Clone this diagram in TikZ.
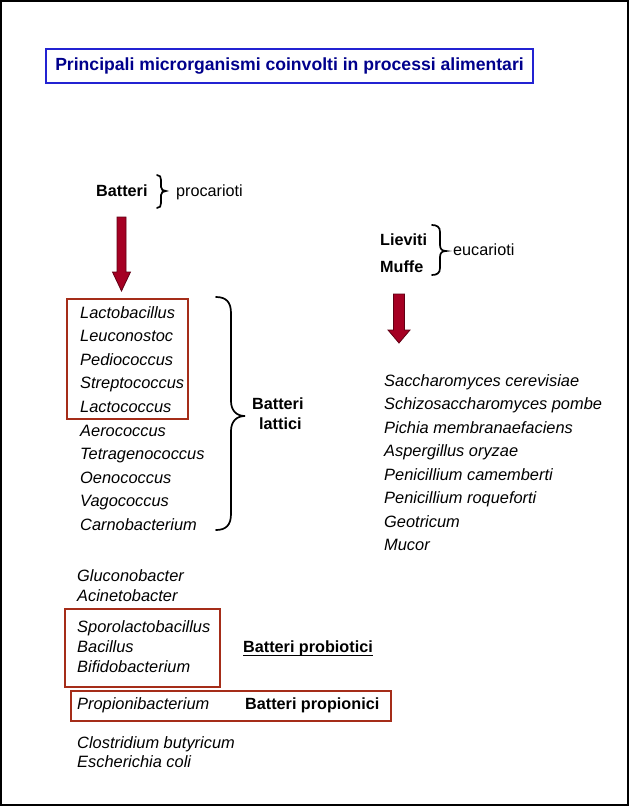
\documentclass[tikz,border=0pt]{standalone}
\usepackage{fontspec}
\setmainfont{Liberation Sans}
\definecolor{titleblue}{RGB}{0,0,140}
\definecolor{boxblue}{RGB}{35,35,210}
\definecolor{boxred}{RGB}{165,45,25}
\definecolor{arrowred}{RGB}{165,0,35}
\definecolor{arrowedge}{RGB}{95,0,20}
\begin{document}
\begin{tikzpicture}[x=1pt,y=-1pt,
  txt/.style={anchor=base west,inner sep=0pt,font=\fontsize{16.2}{19}\selectfont},
  it/.style={txt,font=\fontsize{16.4}{19}\selectfont\itshape},
  bf/.style={txt,font=\fontsize{16.2}{19}\selectfont\bfseries},
  redbox/.style={draw=boxred,line width=2pt},
  bracepath/.style={draw=black,line width=1.7pt,line cap=round},
  blockarrow/.style={fill=arrowred,draw=arrowedge,line width=0.8pt}]
\useasboundingbox (0,0) rectangle (630,807);
\draw[line width=2pt] (1,1) rectangle (628,805);
% title
\node[draw=boxblue,line width=2pt,minimum width=487pt,minimum height=34pt,inner sep=0pt,
  text=titleblue,font=\fontsize{17.6}{20}\selectfont\bfseries] (title) at (289.5,66)
  {Principali microrganismi coinvolti in processi alimentari};
% Batteri procarioti
\node[bf] (batteri) at (96,196) {Batteri};
\node[txt] (procarioti) at (176,196) {procarioti};
\draw[bracepath] (157,175) .. controls (160,175) and (161,177) .. (161,180) -- (161,187)
  .. controls (161,189.5) and (163,191) .. (166,191)
  .. controls (163,191) and (161,192.5) .. (161,195) -- (161,203)
  .. controls (161,206) and (160,208) .. (157,208);
% arrow 1
\draw[blockarrow] (117,217) -- (126,217) -- (126,272) -- (130.5,272) -- (121.5,291)
  -- (112.5,272) -- (117,272) -- cycle;
% Lieviti Muffe eucarioti
\node[bf] (lieviti) at (380,245) {Lieviti};
\node[bf] (muffe) at (380,272.5) {Muffe};
\node[txt] (eucarioti) at (453,255) {eucarioti};
\draw[bracepath] (432,225) .. controls (437,225) and (440,227) .. (440,232) -- (440,245)
  .. controls (440,249) and (442,251) .. (446,251)
  .. controls (442,251) and (440,253) .. (440,257) -- (440,268)
  .. controls (440,273) and (437,275) .. (432,275);
% arrow 2
\draw[blockarrow] (393.5,294) -- (404.5,294) -- (404.5,330) -- (410,330) -- (399,343)
  -- (388,330) -- (393.5,330) -- cycle;
% lactic list
\foreach \name/\t [count=\i from 0] in {l1/Lactobacillus,l2/Leuconostoc,l3/Pediococcus,
  l4/Streptococcus,l5/Lactococcus,l6/Aerococcus,l7/Tetragenococcus,l8/Oenococcus,
  l9/Vagococcus,l10/Carnobacterium}
  \node[it] (\name) at (80,318+23.6*\i) {\t};
\draw[redbox] (67,299) rectangle (188,419);
\draw[bracepath] (216,297) .. controls (226,297) and (231,302) .. (231,313) -- (231,401)
  .. controls (231,410) and (236,416) .. (245,416)
  .. controls (236,416) and (231,422) .. (231,431) -- (231,514)
  .. controls (231,525) and (226,530) .. (216,530);
\node[bf] (bl1) at (252,409.5) {Batteri};
\node[bf] (bl2) at (259,429.5) {lattici};
% yeasts and moulds list
\foreach \name/\t [count=\i from 0] in {r1/Saccharomyces cerevisiae,r2/Schizosaccharomyces pombe,
  r3/Pichia membranaefaciens,r4/Aspergillus oryzae,r5/Penicillium camemberti,
  r6/Penicillium roqueforti,r7/Geotricum,r8/Mucor}
  \node[it] (\name) at (384,386+23.57*\i) {\t};
% other bacteria
\node[it] (glu) at (77,581.5) {Gluconobacter};
\node[it] (aci) at (77,601) {Acinetobacter};
\node[it] (spo) at (77,632.5) {Sporolactobacillus};
\node[it] (bac) at (77,652.5) {Bacillus};
\node[it] (bif) at (77,672.3) {Bifidobacterium};
\draw[redbox] (65,609) rectangle (220,687);
\node[bf] (prob) at (243,652.7) {Batteri probiotici};
\draw[line width=1.4pt] ([yshift=-2.8pt]prob.base west) -- ([yshift=-2.8pt]prob.base east);
\node[it] (prop) at (77,709.3) {Propionibacterium};
\node[bf] (bprop) at (245,709.3) {Batteri propionici};
\draw[redbox] (71,691) rectangle (391,721);
\node[it] (clo) at (77,748.3) {Clostridium butyricum};
\node[it] (esc) at (77,767.7) {Escherichia coli};
\end{tikzpicture}
\end{document}
